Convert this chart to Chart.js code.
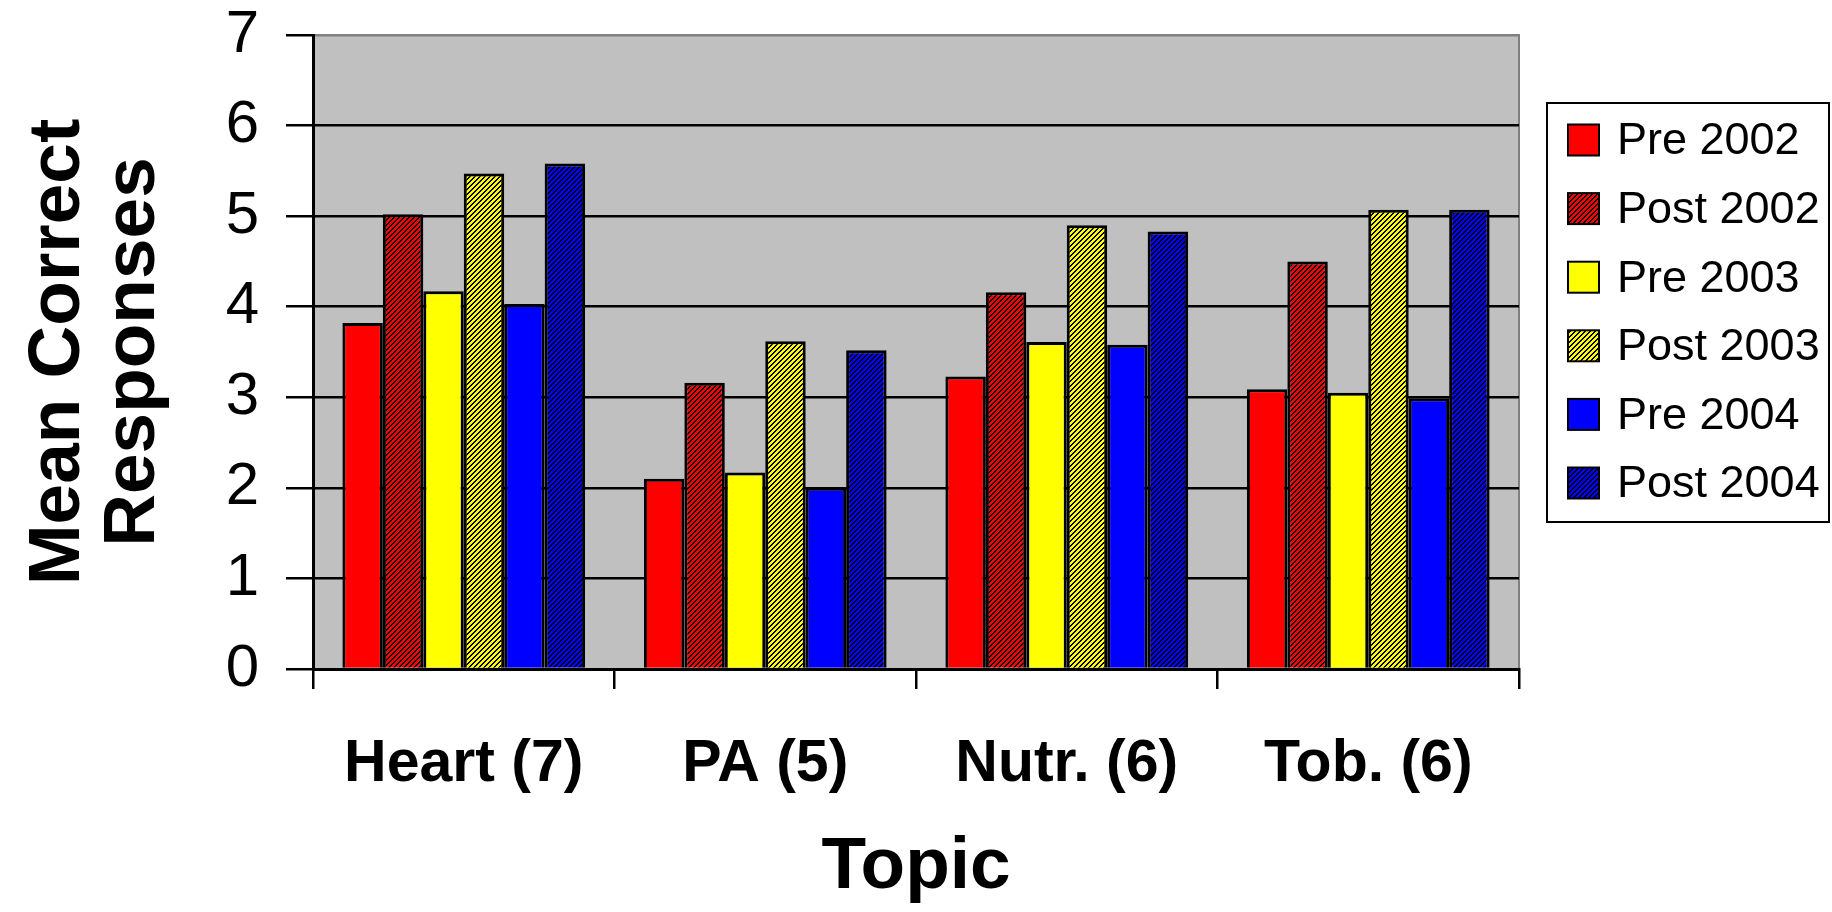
<!DOCTYPE html>
<html>
<head>
<meta charset="utf-8">
<script src="https://cdn.jsdelivr.net/npm/chart.js@4/dist/chart.umd.min.js"></script>
<style>
  html, body { margin: 0; padding: 0; background: #ffffff; }
  #wrap { width: 1832px; height: 912px; }
</style>
</head>
<body>
<div id="wrap"><canvas id="c" width="1832" height="912"></canvas></div>
<script>
// Topics on the x axis (number of questions in brackets)
const topics = ['Heart (7)', 'PA (5)', 'Nutr. (6)', 'Tob. (6)'];
const seriesNames = ['Pre 2002', 'Post 2002', 'Pre 2003', 'Post 2003', 'Pre 2004', 'Post 2004'];

// Mean correct responses per topic
const pre2002  = [3.82, 2.10, 3.23, 3.09];
const post2002 = [5.02, 3.16, 4.16, 4.50];
const pre2003  = [4.17, 2.17, 3.61, 3.05];
const post2003 = [5.47, 3.62, 4.90, 5.07];
const pre2004  = [4.03, 2.00, 3.58, 2.99];
const post2004 = [5.58, 3.52, 4.83, 5.07];

const yTicks = [0, 1, 2, 3, 4, 5, 6, 7];

const FONT = "'Liberation Sans', Arial, Helvetica, sans-serif";
Chart.defaults.font.family = FONT;
Chart.defaults.color = '#000000';

// "/" hatch: black and colour stripes on a 5px tile (used for the "Post" series)
function hatch(color) {
  const n = 5;
  const c = document.createElement('canvas');
  c.width = n; c.height = n;
  const g = c.getContext('2d');
  g.fillStyle = color;
  g.fillRect(0, 0, n, n);
  g.fillStyle = '#000000';
  for (let y = 0; y < n; y++) {
    for (let x = 0; x < n; x++) {
      if ((x + y) % n < 2) g.fillRect(x, y, 1, 1);
    }
  }
  return g.createPattern(c, 'repeat');
}

const ctx = document.getElementById('c').getContext('2d');

const fills = [
  '#FF0000', hatch('#FF0000'),
  '#FFFF00', hatch('#FFFF00'),
  '#0000FF', hatch('#0000FF')
];
const values = [pre2002, post2002, pre2003, post2003, pre2004, post2004];

// Grey plot background plus its thin grey frame
const plotBackground = {
  id: 'plotBackground',
  beforeDraw(chart) {
    const { ctx, chartArea: a } = chart;
    ctx.save();
    ctx.fillStyle = '#C0C0C0';
    ctx.fillRect(a.left, a.top, a.right - a.left, a.bottom - a.top);
    ctx.strokeStyle = '#808080';
    ctx.lineWidth = 2;
    ctx.beginPath();
    ctx.moveTo(a.left, a.top);
    ctx.lineTo(a.right, a.top);
    ctx.lineTo(a.right, a.bottom);
    ctx.stroke();
    ctx.restore();
  }
};

// Framed legend box on the right
const boxedLegend = {
  id: 'boxedLegend',
  afterDraw(chart) {
    const { ctx } = chart;
    const x = 1547, y = 103, w = 282, h = 419;
    ctx.save();
    ctx.fillStyle = '#ffffff';
    ctx.fillRect(x, y, w, h);
    ctx.strokeStyle = '#000000';
    ctx.lineWidth = 2;
    ctx.strokeRect(x, y, w, h);
    ctx.font = '45px ' + FONT;
    ctx.textBaseline = 'middle';
    ctx.textAlign = 'left';
    chart.data.datasets.forEach((ds, i) => {
      const cy = 140 + i * 68.6;
      ctx.fillStyle = ds.backgroundColor;
      ctx.fillRect(1568, cy - 15.5, 31, 31);
      ctx.lineWidth = 2;
      ctx.strokeStyle = '#000000';
      ctx.strokeRect(1568, cy - 15.5, 31, 31);
      ctx.fillStyle = '#000000';
      ctx.fillText(ds.label, 1617, cy + 2);
    });
    ctx.restore();
  }
};

new Chart(ctx, {
  type: 'bar',
  data: {
    labels: topics,
    datasets: seriesNames.map((name, i) => ({
      label: name,
      data: values[i],
      backgroundColor: fills[i],
      borderColor: '#000000',
      borderWidth: 3,
      categoryPercentage: 0.805,
      barPercentage: 1.0
    }))
  },
  options: {
    responsive: false,
    animation: false,
    layout: { padding: { top: 35, right: 313, bottom: 0, left: 0 } },
    plugins: {
      legend: { display: false },
      tooltip: { enabled: false }
    },
    scales: {
      x: {
        grid: {
          offset: true,
          drawOnChartArea: false,
          color: '#000000',
          lineWidth: 2.5,
          tickLength: 20
        },
        border: { color: '#000000', width: 3 },
        ticks: {
          color: '#000000',
          font: { size: 59, weight: 'bold' },
          padding: 40,
          maxRotation: 0,
          autoSkip: false
        },
        title: {
          display: true,
          text: 'Topic',
          color: '#000000',
          font: { size: 73, weight: 'bold', lineHeight: 1 },
          padding: { top: 0, bottom: 8 }
        },
        afterFit(scale) {
          scale.height = 243;
          scale.paddingLeft = 0;
          scale.paddingRight = 0;
        }
      },
      y: {
        min: yTicks[0],
        max: yTicks[yTicks.length - 1],
        afterBuildTicks(scale) { scale.ticks = yTicks.map(v => ({ value: v })); },
        grid: {
          color: (c) => (c.tick && c.tick.value === 7 ? '#808080' : '#000000'),
          tickColor: '#000000',
          lineWidth: 2.5,
          tickLength: 27
        },
        border: { color: '#000000', width: 3 },
        ticks: {
          color: '#000000',
          font: { size: 60 },
          padding: 27
        },
        title: {
          display: true,
          text: ['Mean Correct', 'Responses'],
          color: '#000000',
          font: { size: 73, weight: 'bold', lineHeight: 1.03 },
          padding: { top: 21, bottom: 0 }
        },
        afterFit(scale) {
          scale.width = 313;
          scale.paddingTop = 0;
          scale.paddingBottom = 0;
        }
      }
    }
  },
  plugins: [plotBackground, boxedLegend]
});
</script>
</body>
</html>
